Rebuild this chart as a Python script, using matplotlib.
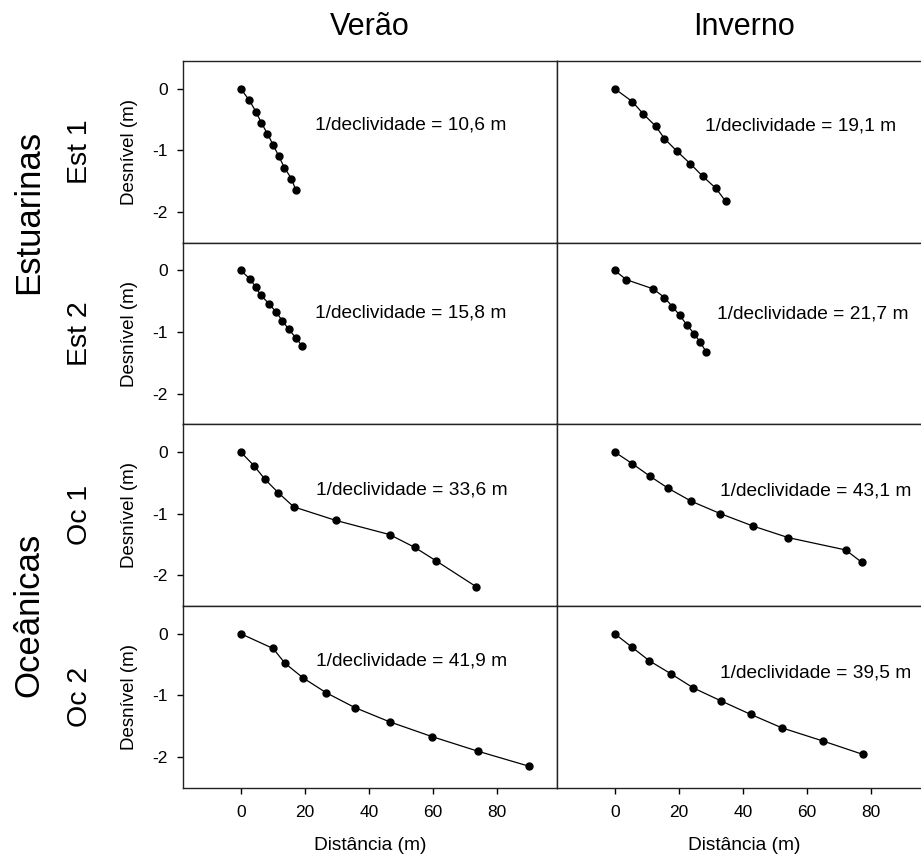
import matplotlib
matplotlib.use("Agg")
import matplotlib.pyplot as plt

plt.rcParams["font.family"] = ["Liberation Sans", "DejaVu Sans"]

seasons = ["Verão", "Inverno"]
sites = ["Est 1", "Est 2", "Oc 1", "Oc 2"]
groups = ["Estuarinas", "Oceânicas"]

# distância (m) / desnível (m), verão
dist_ver = [
    [0, 2.7, 4.7, 6.4, 8.3, 10.1, 11.9, 13.6, 15.8, 17.2],
    [0, 2.8, 4.7, 6.2, 8.8, 11.1, 13.0, 14.9, 17.1, 19.2],
    [0, 4.1, 7.5, 11.7, 16.5, 29.6, 46.4, 54.3, 61.0, 73.5],
    [0, 10.1, 13.8, 19.5, 26.7, 35.6, 46.4, 59.6, 74.1, 89.8],
]
desn_ver = [
    [0, -0.19, -0.37, -0.55, -0.73, -0.91, -1.10, -1.28, -1.46, -1.65],
    [0, -0.135, -0.27, -0.40, -0.54, -0.68, -0.82, -0.95, -1.09, -1.23],
    [0, -0.22, -0.44, -0.66, -0.89, -1.11, -1.34, -1.55, -1.77, -2.19],
    [0, -0.24, -0.48, -0.72, -0.96, -1.20, -1.43, -1.67, -1.91, -2.15],
]

# inverno
dist_inv = [
    [0, 5.5, 8.9, 12.8, 15.5, 19.3, 23.6, 27.4, 31.6, 34.6],
    [0, 3.6, 12.0, 15.5, 18.0, 20.3, 22.4, 24.8, 26.7, 28.6],
    [0, 5.5, 10.9, 16.7, 23.9, 32.9, 43.0, 54.1, 72.0, 77.0],
    [0, 5.4, 10.8, 17.5, 24.5, 33.1, 42.4, 52.2, 64.8, 77.4],
]
desn_inv = [
    [0, -0.21, -0.41, -0.61, -0.81, -1.01, -1.22, -1.42, -1.62, -1.83],
    [0, -0.15, -0.30, -0.44, -0.59, -0.73, -0.88, -1.03, -1.17, -1.33],
    [0, -0.19, -0.39, -0.59, -0.80, -1.00, -1.20, -1.39, -1.59, -1.79],
    [0, -0.22, -0.44, -0.65, -0.88, -1.09, -1.31, -1.53, -1.74, -1.96],
]

slope_ver = ["10,6", "15,8", "33,6", "41,9"]
slope_inv = ["19,1", "21,7", "43,1", "39,5"]

# where the slope text sits (data coords)
txt_ver = [(23.1, -0.59), (23.1, -0.69), (23.4, -0.61), (23.4, -0.45)]
txt_inv = [(28.1, -0.60), (31.9, -0.71), (32.8, -0.63), (32.8, -0.63)]

xticks = [0, 20, 40, 60, 80]
yticks = [0, -1, -2]

W, H = 921, 856
fig = plt.figure(figsize=(W / 100, H / 100), dpi=100)

left_x = [183, 557]
ax_w = 374
row_top = [61, 242.7, 424.3, 606]
row_h = 181.7

axes = []
for r in range(4):
    row = []
    for c in range(2):
        x0 = left_x[c] / W
        y0 = 1 - (row_top[r] + row_h) / H
        ax = fig.add_axes([x0, y0, ax_w / W, row_h / H])
        row.append(ax)
    axes.append(row)

for r in range(4):
    for c in range(2):
        ax = axes[r][c]
        xs = dist_ver[r] if c == 0 else dist_inv[r]
        ys = desn_ver[r] if c == 0 else desn_inv[r]
        ax.plot(xs, ys, color="black", lw=0.9, marker="o", ms=5.0)
        tx, ty = (txt_ver if c == 0 else txt_inv)[r]
        sl = (slope_ver if c == 0 else slope_inv)[r]
        ax.text(tx, ty, f"1/declividade = {sl} m", fontsize=13.8,
                ha="left", va="center")
        ax.set_xlim(-18, 98.6)
        ax.set_ylim(-2.5, 0.45)
        for s in ax.spines.values():
            s.set_linewidth(1.0)
            s.set_color("#222222")
        ax.tick_params(direction="out", length=4, width=1,
                       labelsize=12.5)
        if r == 3:
            ax.set_xticks(xticks)
            ax.tick_params(axis="x", pad=8.5)
            ax.set_xlabel("Distância (m)", fontsize=13.8, labelpad=12)
        else:
            ax.set_xticks([])
        if c == 0:
            ax.set_yticks(yticks)
            ax.set_yticklabels([str(v) for v in yticks])
            ax.tick_params(axis="y", pad=7)
            ax.set_ylabel("Desnível (m)", fontsize=13.5, labelpad=10)
        else:
            ax.set_yticks([])
        if r == 0:
            ax.set_title(seasons[c], fontsize=22, pad=19)

# site labels (Est 1 ... Oc 2)
for r in range(4):
    yc = 1 - (row_top[r] + row_h / 2) / H
    fig.text(80 / W, yc, sites[r], rotation=90, ha="center", va="center",
             fontsize=20.5)

# group labels
group_y = [212, 615]
for g, yy in zip(groups, group_y):
    fig.text(29 / W, 1 - yy / H, g, rotation=90, ha="center", va="center",
             fontsize=25)

fig.savefig("out.png", dpi=100)
